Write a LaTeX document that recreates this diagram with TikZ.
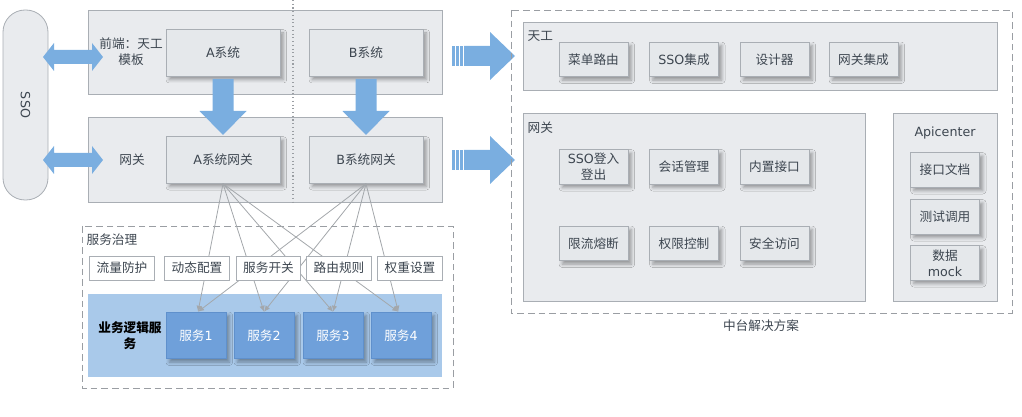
\documentclass[tikz,border=0pt]{standalone}
\usepackage{fontspec}
\setmainfont{Noto Sans CJK SC}
\newfontfamily\dejavu{DejaVu Sans}
\newcommand{\en}[1]{{\dejavu #1}}
\usetikzlibrary{positioning,shadows.blur,arrows.meta}
\definecolor{panelgray}{HTML}{E9EBEE}
\definecolor{paneledge}{HTML}{A9AEB4}
\definecolor{boxgray}{HTML}{E5E8EB}
\definecolor{arrowblue}{HTML}{7AAEE0}
\definecolor{lightblue}{HTML}{A9C9EA}
\definecolor{svcblue}{HTML}{6FA0DA}
\definecolor{svcedge}{HTML}{5F90CC}
\definecolor{txtgray}{HTML}{3D4650}
\definecolor{linegray}{HTML}{A3A7AB}
\definecolor{dashgray}{HTML}{9A9EA3}
\tikzset{
  panel/.style={draw=paneledge, fill=panelgray, line width=0.6pt},
  dashbox/.style={draw=dashgray, line width=0.6pt, dash pattern=on 5pt off 3pt},
  plain/.style={text=txtgray, font=\fontsize{9.5}{12}\selectfont, align=center, inner sep=1pt},
  boxshadow/.style={blur shadow={shadow xshift=2.5pt, shadow yshift=-2.5pt, shadow blur radius=2.5pt, shadow opacity=35}},
  bigbox/.style={plain, draw=paneledge, fill=boxgray, line width=0.6pt, minimum width=85.5pt, minimum height=35pt, boxshadow},
  itembox/.style={plain, draw=paneledge, fill=boxgray, line width=0.6pt, minimum width=51.75pt, minimum height=26pt, boxshadow},
  rulebox/.style={plain, draw=paneledge, fill=white, line width=0.6pt, minimum width=48.5pt, minimum height=18pt},
  svcbox/.style={plain, text=white, draw=svcedge, fill=svcblue, line width=0.6pt, minimum width=45pt, minimum height=35pt, boxshadow},
  pill/.style={plain, draw=paneledge, fill=panelgray, line width=0.6pt, rounded corners=16.5pt, minimum width=142.5pt, minimum height=33.75pt},
  fanline/.style={draw=linegray, line width=0.6pt, -{Latex[length=4.5pt,width=4pt]}},
  blockarrow/.style={fill=arrowblue}
}
\begin{document}
\begin{tikzpicture}[x=0.75pt,y=-0.75pt]
  \useasboundingbox (0,0) rectangle (1022,417);
  % Draw SSO column
  \node[pill, rotate=-90] (sso) at (25.5,105) {\en{SSO}};
  % Draw front-end and gateway panels
  \filldraw[panel] (88,10) rectangle (442,94);
  \filldraw[panel] (88,117) rectangle (442,202);
  \draw[dashgray, line width=0.8pt, dotted] (293,0) -- (293,203);
  \node[plain] (felabel) at (131,52) {前端：天工\\模板};
  \node[plain] (gwlabel) at (132,160) {网关};
  \node[bigbox] (asys) at (223,53) {\en{A}系统};
  \node[bigbox] (bsys) at (366,53) {\en{B}系统};
  \node[bigbox] (agw) at (223,160) {\en{A}系统网关};
  \node[bigbox] (bgw) at (366,160) {\en{B}系统网关};
  % Draw SSO arrows
  \fill[blockarrow] (43,57) -- (54,43) -- (54,50) -- (92,50) -- (92,43) -- (103,57)
    -- (92,71) -- (92,64) -- (54,64) -- (54,71) -- cycle;
  \fill[blockarrow] (43,160) -- (54,146) -- (54,153) -- (92,153) -- (92,146) -- (103,160)
    -- (92,174) -- (92,167) -- (54,167) -- (54,174) -- cycle;
  % Draw down arrows
  \fill[blockarrow] (212.5,79) -- (233.5,79) -- (233.5,111) -- (246.5,111) -- (223,135)
    -- (199.5,111) -- (212.5,111) -- cycle;
  \fill[blockarrow] (355.5,79) -- (376.5,79) -- (376.5,111) -- (389.5,111) -- (366,135)
    -- (342.5,111) -- (355.5,111) -- cycle;
  % Draw service governance
  \draw[dashbox] (82,226) rectangle (453,388);
  \node[plain, anchor=west] (govlabel) at (85,240) {服务治理};
  \fill[lightblue] (88,294) rectangle (442,377);
  \node[plain, text=black, font=\fontsize{9.5}{12}\selectfont\bfseries] (bizlabel) at (130,336) {业务逻辑服\\务};
  \node[svcbox] (s1) at (196,335.5) {服务\en{1}};
  \node[svcbox] (s2) at (264,335.5) {服务\en{2}};
  \node[svcbox] (s3) at (333,335.5) {服务\en{3}};
  \node[svcbox] (s4) at (401,335.5) {服务\en{4}};
  % Gateways to services
  \draw[fanline] (agw.south) -- ([xshift=1.5pt]s1.north);
  \draw[fanline] (agw.south) -- (s2.north);
  \draw[fanline] (agw.south) -- (s3.north);
  \draw[fanline] (agw.south) -- ([xshift=-2pt]s4.north);
  \draw[fanline] (bgw.south) -- ([xshift=1.5pt]s1.north);
  \draw[fanline] (bgw.south) -- (s2.north);
  \draw[fanline] (bgw.south) -- (s3.north);
  \draw[fanline] (bgw.south) -- ([xshift=-2pt]s4.north);
  \node[rulebox] (r1) at (122,268) {流量防护};
  \node[rulebox] (r2) at (197,268) {动态配置};
  \node[rulebox] (r3) at (268.5,268) {服务开关};
  \node[rulebox] (r4) at (339,268) {路由规则};
  \node[rulebox] (r5) at (410,268) {权重设置};
  % Draw arrows to the platform
  \fill[blockarrow] (452,46) rectangle (454.5,66);
  \fill[blockarrow] (456,46) rectangle (458.5,66);
  \fill[blockarrow] (460,46) rectangle (462.5,66);
  \fill[blockarrow] (464,46) -- (490,46) -- (490,32) -- (515,56) -- (490,80) -- (490,66) -- (464,66) -- cycle;
  \fill[blockarrow] (452,150) rectangle (454.5,170);
  \fill[blockarrow] (456,150) rectangle (458.5,170);
  \fill[blockarrow] (460,150) rectangle (462.5,170);
  \fill[blockarrow] (464,150) -- (490,150) -- (490,136) -- (515,160) -- (490,184) -- (490,170) -- (464,170) -- cycle;
  % Draw platform solution
  \draw[dashbox] (511,10) rectangle (1012,313);
  \node[plain] (ztlabel) at (761,326) {中台解决方案};
  \filldraw[panel] (523,22) rectangle (997,90);
  \node[plain, anchor=west] (tglabel) at (526,36) {天工};
  \node[itembox] (tg1) at (593.5,59.5) {菜单路由};
  \node[itembox] (tg2) at (684,59.5) {\en{SSO}集成};
  \node[itembox] (tg3) at (774.5,59.5) {设计器};
  \node[itembox] (tg4) at (863.5,59.5) {网关集成};
  \filldraw[panel] (523,113) rectangle (865,301);
  \node[plain, anchor=west] (wglabel) at (526,128) {网关};
  \node[itembox] (wg1) at (593.5,167) {\en{SSO}登入\\登出};
  \node[itembox] (wg2) at (684,167) {会话管理};
  \node[itembox] (wg3) at (774.5,167) {内置接口};
  \node[itembox] (wg4) at (593.5,243.5) {限流熔断};
  \node[itembox] (wg5) at (684,243.5) {权限控制};
  \node[itembox] (wg6) at (774.5,243.5) {安全访问};
  \filldraw[panel] (893,113) rectangle (997,301);
  \node[plain] (apilabel) at (945,133) {\en{Apicenter}};
  \node[itembox] (api1) at (945,170) {接口文档};
  \node[itembox] (api2) at (945,217) {测试调用};
  \node[itembox] (api3) at (945,263) {数据\\\en{mock}};
\end{tikzpicture}
\end{document}
